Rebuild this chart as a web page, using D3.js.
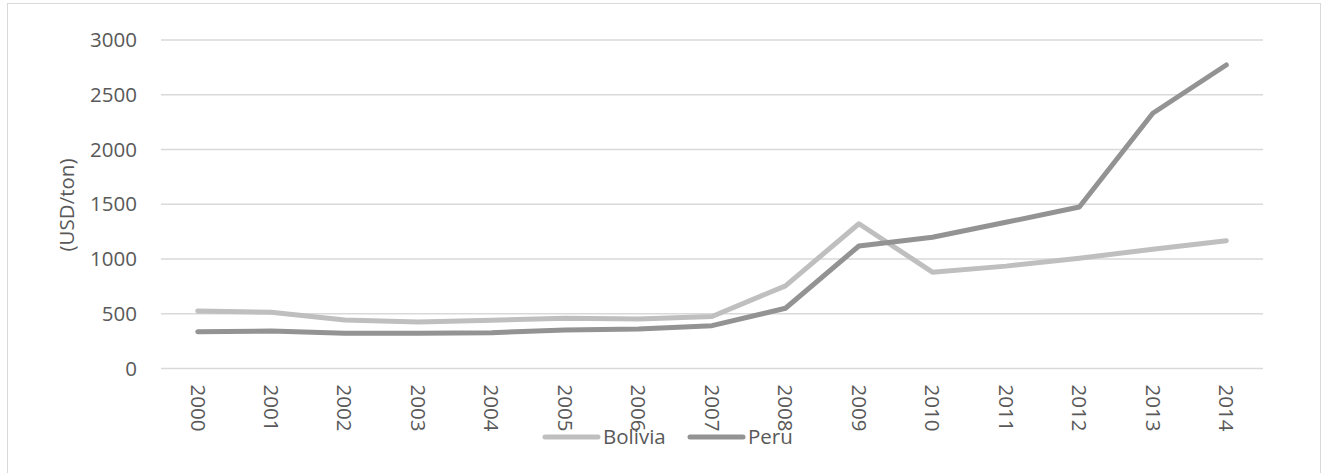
<!DOCTYPE html>
<html>
<head>
<meta charset="utf-8">
<script src="https://cdn.jsdelivr.net/npm/d3@7"></script>
<style>
  html, body { margin: 0; padding: 0; background: #fff; }
  svg { display: block; font-family: "Open Sans", "Noto Sans", sans-serif; }
</style>
</head>
<body>
<svg id="chart" width="1323" height="473"></svg>
<script>
// Export price series, USD per ton
const years = ["2000","2001","2002","2003","2004","2005","2006","2007","2008","2009","2010","2011","2012","2013","2014"];
const bolivia = [525, 513, 443, 425, 440, 460, 452, 475, 755, 1322, 880, 935, 1006, 1090, 1167];
const peru = [336, 342, 321, 321, 327, 352, 361, 391, 550, 1119, 1198, 1335, 1475, 2331, 2772];
const yTicks = [0, 500, 1000, 1500, 2000, 2500, 3000];
const seriesNames = ["Bolivia", "Peru"];
const seriesColors = ["#bfbfbf", "#939393"];

const svg = d3.select("#chart");
const textColor = "#595959";
const fontSize = 20.5;
const fontFamily = "'Open Sans', 'Noto Sans', sans-serif";

// outer chart frame
svg.append("rect")
  .attr("x", 7.5).attr("y", 3.5)
  .attr("width", 1313).attr("height", 480)
  .attr("fill", "#fff").attr("stroke", "#d9d9d9").attr("stroke-width", 1);

const plot = { left: 161, right: 1263, top: 40, bottom: 368.5 };

const x = d3.scaleBand().domain(years).range([plot.left, plot.right]).padding(0);
const y = d3.scaleLinear().domain([0, 3000]).range([plot.bottom, plot.top]);

// horizontal gridlines
svg.append("g").selectAll("line").data(yTicks).join("line")
  .attr("x1", plot.left).attr("x2", plot.right)
  .attr("y1", d => y(d)).attr("y2", d => y(d))
  .attr("stroke", "#d9d9d9").attr("stroke-width", 1.3);

// y axis labels
const yAxis = svg.append("g")
  .attr("transform", `translate(${plot.left - 24},0)`)
  .call(d3.axisLeft(y).tickValues(yTicks).tickFormat(d3.format("d")).tickSize(0).tickPadding(0));
yAxis.select(".domain").remove();
yAxis.selectAll("text")
  .attr("fill", textColor).attr("font-size", fontSize)
  .attr("font-family", fontFamily);

// x axis labels, rotated to read downward
const xAxis = svg.append("g")
  .attr("transform", `translate(0,${plot.bottom})`)
  .call(d3.axisBottom(x).tickSize(0).tickPadding(0));
xAxis.select(".domain").remove();
xAxis.selectAll("text")
  .attr("fill", textColor).attr("font-size", fontSize)
  .attr("font-family", fontFamily)
  .attr("transform", "rotate(90)")
  .attr("x", 16).attr("y", 0).attr("dy", "0.35em")
  .attr("text-anchor", "start");

// y axis title
svg.append("text")
  .attr("transform", "translate(74,205) rotate(-90)")
  .attr("text-anchor", "middle")
  .attr("fill", textColor).attr("font-size", fontSize)
  .attr("font-family", fontFamily)
  .text("(USD/ton)");

// series lines
const line = d3.line()
  .x((d, i) => x(years[i]) + x.bandwidth() / 2)
  .y(d => y(d));

[bolivia, peru].forEach((vals, k) => {
  svg.append("path")
    .datum(vals)
    .attr("d", line)
    .attr("fill", "none")
    .attr("stroke", seriesColors[k])
    .attr("stroke-width", 5)
    .attr("stroke-linejoin", "round")
    .attr("stroke-linecap", "round");
});

// legend
const legend = svg.append("g");
const legendItems = [{ x: 545 }, { x: 690 }];
seriesNames.forEach((name, k) => {
  const g = legend.append("g").attr("transform", `translate(${legendItems[k].x},437)`);
  g.append("line")
    .attr("x1", 0).attr("x2", 53).attr("y1", 0).attr("y2", 0)
    .attr("stroke", seriesColors[k]).attr("stroke-width", 5)
    .attr("stroke-linecap", "round");
  g.append("text")
    .attr("x", 58).attr("y", 0).attr("dy", "0.35em")
    .attr("fill", textColor).attr("font-size", fontSize)
    .attr("font-family", fontFamily)
    .text(name);
});
</script>
</body>
</html>
